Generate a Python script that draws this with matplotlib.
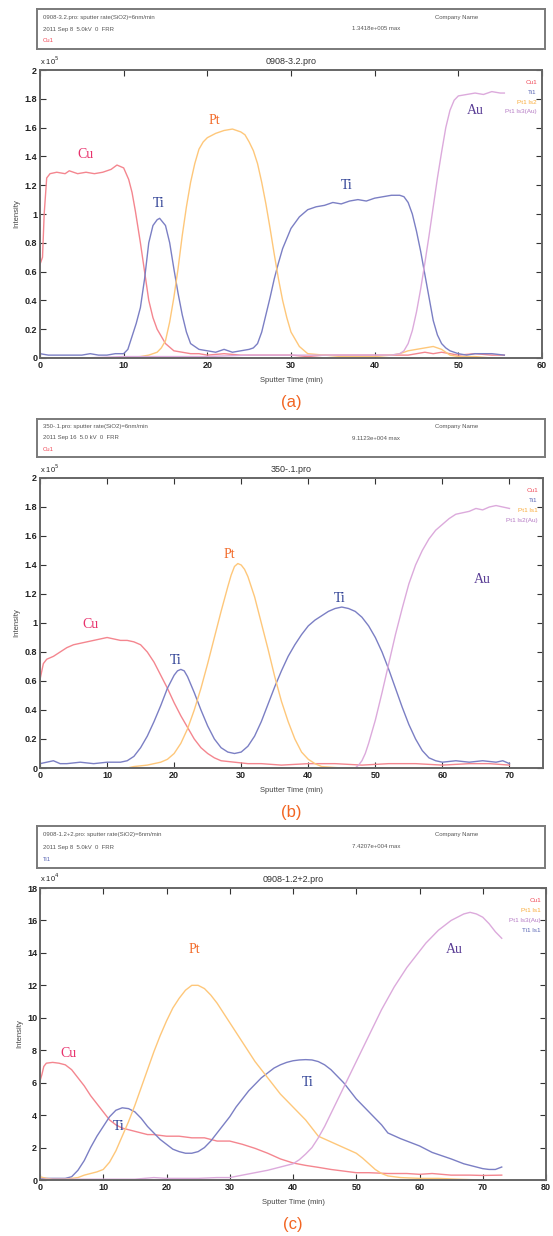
import matplotlib
matplotlib.use("Agg")
import matplotlib.pyplot as plt

W, H = 553, 1236

# ---------------- data: panel (a) ----------------
cu_a_t = [0, 0.3, 0.5, 0.8, 1.2, 2, 3, 3.5, 4.5, 5.5, 6.5, 7.5, 8.5, 9.2, 10, 10.6, 11, 11.4, 12, 12.5, 13, 13.5,
          14, 15, 16, 17, 18, 19, 20, 22, 24, 26, 28, 30, 32, 34, 36, 38, 40, 42, 44, 45, 46, 47, 48, 49, 50, 52, 54, 55.5]
cu_a_v = [0.65, 0.70, 1.00, 1.25, 1.28, 1.29, 1.28, 1.30, 1.28, 1.29, 1.28, 1.29, 1.31, 1.34, 1.32, 1.24, 1.15, 1.02,
          0.80, 0.60, 0.40, 0.28, 0.20, 0.10, 0.05, 0.04, 0.03, 0.03, 0.02, 0.03, 0.02, 0.02, 0.02, 0.02, 0.01, 0.02,
          0.02, 0.02, 0.02, 0.02, 0.02, 0.03, 0.04, 0.03, 0.04, 0.03, 0.02, 0.03, 0.02, 0.02]
ti_a_t = [0, 1, 2, 3, 4, 5, 6, 7, 8, 9, 10, 10.5, 11, 11.5, 12, 12.5, 13, 13.5, 14, 14.3, 15, 15.5, 16, 16.5, 17,
          17.5, 18, 19, 20, 21, 22, 23, 24, 25, 25.5, 26, 26.5, 27, 27.5, 28, 28.5, 29, 30, 31, 32, 33, 34, 35, 36,
          37, 38, 39, 40, 41, 42, 43, 43.5, 44, 44.5, 45, 45.5, 46, 46.5, 47, 47.5, 48, 48.5, 49, 50, 51, 52, 53,
          54, 55.5]
ti_a_v = [0.03, 0.02, 0.02, 0.02, 0.02, 0.02, 0.03, 0.02, 0.02, 0.03, 0.03, 0.06, 0.15, 0.24, 0.35, 0.55, 0.80,
          0.92, 0.96, 0.97, 0.92, 0.80, 0.62, 0.45, 0.30, 0.18, 0.10, 0.06, 0.05, 0.04, 0.06, 0.04, 0.05, 0.06, 0.07,
          0.10, 0.18, 0.30, 0.42, 0.55, 0.66, 0.76, 0.90, 0.98, 1.03, 1.05, 1.06, 1.08, 1.07, 1.09, 1.10, 1.09,
          1.11, 1.12, 1.13, 1.13, 1.12, 1.08, 1.00, 0.88, 0.74, 0.58, 0.42, 0.26, 0.16, 0.10, 0.07, 0.05, 0.03,
          0.02, 0.03, 0.03, 0.03, 0.02]
pt_a_t = [0, 5, 10, 12, 13, 14, 14.5, 15, 15.5, 16, 16.5, 17, 17.5, 18, 18.5, 19, 19.5, 20, 21, 22, 23, 24, 24.5,
          25, 25.5, 26, 26.5, 27, 27.5, 28, 28.5, 29, 29.5, 30, 31, 32, 34, 36, 38, 40, 42, 43, 44, 45, 46, 47, 48,
          48.5, 49, 50, 52, 54, 55.5]
pt_a_v = [0, 0, 0, 0.01, 0.02, 0.04, 0.07, 0.12, 0.25, 0.42, 0.62, 0.85, 1.05, 1.22, 1.35, 1.45, 1.50, 1.53, 1.56,
          1.58, 1.59, 1.57, 1.55, 1.50, 1.44, 1.35, 1.22, 1.07, 0.90, 0.72, 0.55, 0.40, 0.28, 0.18, 0.08, 0.03,
          0.02, 0.01, 0.01, 0.01, 0.02, 0.03, 0.05, 0.06, 0.07, 0.08, 0.06, 0.04, 0.02, 0.01, 0.01, 0.0, 0.0]
au_a_t = [0, 5, 10, 15, 20, 25, 30, 35, 40, 42, 43, 43.5, 44, 44.5, 45, 45.5, 46, 46.5, 47, 47.5, 48, 48.5, 49,
          49.5, 50, 51, 52, 53, 54, 55, 55.5]
au_a_v = [0.0, 0.0, 0.01, 0.01, 0.01, 0.02, 0.02, 0.02, 0.02, 0.02, 0.03, 0.05, 0.10, 0.19, 0.32, 0.48, 0.66, 0.85,
          1.05, 1.25, 1.43, 1.60, 1.72, 1.79, 1.82, 1.83, 1.84, 1.83, 1.85, 1.84, 1.84]

# ---------------- data: panel (b) ----------------
cu_b_t = [0, 0.5, 1, 2, 3, 4, 5, 6, 7, 8, 9, 10, 11, 12, 13, 14, 15, 16, 17, 18, 19, 20, 21, 22, 23, 24, 25, 26,
          27, 29, 31, 33, 36, 40, 44, 48, 52, 56, 60, 64, 67, 70]
cu_b_v = [0.61, 0.72, 0.75, 0.77, 0.80, 0.83, 0.85, 0.86, 0.87, 0.88, 0.89, 0.90, 0.89, 0.88, 0.88, 0.87, 0.85,
          0.80, 0.73, 0.64, 0.55, 0.45, 0.36, 0.28, 0.20, 0.14, 0.10, 0.07, 0.05, 0.04, 0.03, 0.03, 0.02, 0.03,
          0.03, 0.02, 0.03, 0.03, 0.02, 0.03, 0.03, 0.02]
ti_b_t = [0, 1, 2, 3, 4, 6, 8, 10, 12, 13, 14, 15, 16, 17, 18, 19, 20, 20.5, 21, 21.5, 22, 23, 24, 25, 26, 27, 28,
          29, 30, 31, 32, 33, 34, 35, 36, 37, 38, 39, 40, 41, 42, 43, 44, 45, 46, 47, 48, 49, 50, 51, 52, 53, 54,
          55, 56, 57, 58, 59, 60, 62, 64, 66, 68, 69, 70]
ti_b_v = [0.03, 0.04, 0.05, 0.03, 0.03, 0.04, 0.03, 0.04, 0.04, 0.05, 0.08, 0.14, 0.22, 0.32, 0.43, 0.55, 0.64,
          0.67, 0.68, 0.67, 0.63, 0.52, 0.40, 0.29, 0.20, 0.14, 0.11, 0.10, 0.11, 0.15, 0.22, 0.32, 0.44, 0.56,
          0.67, 0.77, 0.85, 0.92, 0.98, 1.02, 1.05, 1.08, 1.10, 1.11, 1.10, 1.08, 1.04, 0.98, 0.90, 0.80, 0.68,
          0.55, 0.42, 0.30, 0.20, 0.12, 0.07, 0.05, 0.04, 0.05, 0.04, 0.05, 0.04, 0.05, 0.03]
pt_b_t = [0, 5, 10, 13, 14, 16, 18, 19, 20, 21, 22, 23, 24, 25, 26, 27, 28, 28.5, 29, 29.5, 30, 30.5, 31, 32, 33,
          34, 35, 36, 37, 38, 39, 40, 41, 42, 45, 50, 55, 60, 65, 70]
pt_b_v = [0, 0, 0, 0, 0.01, 0.02, 0.04, 0.06, 0.10, 0.17, 0.27, 0.40, 0.55, 0.72, 0.90, 1.08, 1.25, 1.33, 1.39,
          1.41, 1.40, 1.37, 1.32, 1.18, 1.00, 0.82, 0.63, 0.46, 0.32, 0.20, 0.11, 0.06, 0.03, 0.01, 0, 0, 0, 0, 0, 0]
au_b_t = [0, 10, 20, 30, 40, 47, 47.5, 48, 48.5, 49, 50, 51, 52, 53, 54, 55, 56, 57, 58, 59, 60, 61, 62, 63, 64,
          65, 66, 67, 68, 69, 70]
au_b_v = [0, 0, 0, 0, 0, 0, 0.02, 0.05, 0.10, 0.17, 0.33, 0.52, 0.72, 0.92, 1.10, 1.27, 1.40, 1.50, 1.58, 1.64,
          1.68, 1.72, 1.75, 1.76, 1.77, 1.79, 1.78, 1.80, 1.81, 1.80, 1.79]

# ---------------- data: panel (c) ----------------
cu_c_t = [0, 0.3, 0.6, 1, 2, 3, 4, 5, 6, 7, 8, 9, 10, 11, 12, 13, 14, 15, 16, 17, 18, 20, 22, 24, 26, 27, 28, 29,
          30, 32, 34, 36, 38, 40, 42, 44, 46, 48, 50, 52, 55, 58, 60, 62, 65, 68, 70, 73]
cu_c_v = [6.1, 6.5, 7.0, 7.2, 7.25, 7.2, 7.1, 6.8, 6.3, 5.8, 5.2, 4.7, 4.2, 3.7, 3.4, 3.2, 3.1, 3.0, 2.9, 2.8,
          2.8, 2.7, 2.7, 2.6, 2.6, 2.5, 2.4, 2.4, 2.4, 2.2, 1.95, 1.65, 1.3, 1.05, 0.9, 0.78, 0.65, 0.55, 0.45,
          0.45, 0.4, 0.4, 0.35, 0.4, 0.3, 0.3, 0.28, 0.3]
ti_c_t = [0, 2, 4, 5, 6, 7, 8, 9, 10, 11, 12, 13, 14, 15, 16, 17, 18, 19, 20, 21, 22, 23, 24, 25, 26, 27, 28, 29,
          30, 31, 32, 33, 34, 35, 36, 37, 38, 39, 40, 41, 42, 43, 44, 45, 46, 47, 48, 49, 50, 51, 52, 53, 54, 55,
          57, 60, 62, 65, 67, 70, 71, 72, 73]
ti_c_v = [0.1, 0.1, 0.1, 0.2, 0.6, 1.2, 2.0, 2.7, 3.3, 3.9, 4.3, 4.45, 4.4, 4.2, 3.8, 3.3, 2.9, 2.5, 2.2, 1.9,
          1.75, 1.65, 1.65, 1.75, 2.0, 2.4, 2.9, 3.4, 3.9, 4.5, 5.0, 5.5, 5.9, 6.3, 6.6, 6.9, 7.1, 7.25, 7.35,
          7.4, 7.42, 7.4, 7.3, 7.1, 6.8, 6.4, 6.0, 5.5, 5.0, 4.6, 4.2, 3.8, 3.4, 2.9, 2.55, 2.1, 1.7, 1.3, 1.0,
          0.7, 0.65, 0.65, 0.8]
pt_c_t = [0, 1, 2, 4, 5, 6, 7, 8, 9, 10, 11, 12, 13, 14, 15, 16, 17, 18, 19, 20, 21, 22, 23, 24, 25, 26, 27, 28,
          29, 30, 31, 32, 33, 34, 35, 36, 37, 38, 39, 40, 41, 42, 43, 44, 46, 48, 50, 51, 52, 53, 54, 55, 57, 60,
          63, 66, 70, 73]
pt_c_v = [0.2, 0.1, 0.05, 0.05, 0.1, 0.15, 0.3, 0.4, 0.5, 0.65, 1.1, 1.8, 2.7, 3.6, 4.6, 5.7, 6.8, 7.9, 8.9, 9.8,
          10.6, 11.2, 11.7, 12.0, 12.0, 11.8, 11.4, 10.9, 10.3, 9.7, 9.1, 8.5, 7.9, 7.3, 6.8, 6.3, 5.8, 5.3, 4.9,
          4.5, 4.1, 3.7, 3.2, 2.7, 2.35, 2.0, 1.65, 1.35, 1.0, 0.65, 0.4, 0.25, 0.15, 0.1, 0.1, 0.05, 0.0, 0.0]
au_c_t = [0, 5, 10, 15, 18, 20, 25, 28, 30, 32, 34, 36, 38, 40, 41, 42, 43, 44, 45, 46, 47, 48, 49, 50, 51, 52, 53,
          54, 55, 56, 57, 58, 59, 60, 61, 62, 63, 64, 65, 66, 67, 68, 69, 70, 71, 72, 73]
au_c_v = [0.05, 0.05, 0.05, 0.05, 0.15, 0.1, 0.1, 0.15, 0.15, 0.3, 0.45, 0.6, 0.8, 1.0, 1.25, 1.6, 2.0, 2.6, 3.3,
          4.1, 4.9, 5.7, 6.5, 7.3, 8.1, 8.9, 9.7, 10.5, 11.2, 11.9, 12.5, 13.1, 13.6, 14.1, 14.6, 15.0, 15.4,
          15.7, 16.0, 16.2, 16.4, 16.5, 16.4, 16.2, 15.8, 15.3, 14.9]

# ---------------- text ----------------
headers = [
    ["0908-3.2.pro: sputter rate(SiO2)=6nm/min", "2011 Sep 8  5.0kV  0  FRR", "1.3418e+005 max", "Cu1"],
    ["350-.1.pro: sputter rate(SiO2)=6nm/min", "2011 Sep 16  5.0 kV  0  FRR", "9.1123e+004 max", "Cu1"],
    ["0908-1.2+2.pro: sputter rate(SiO2)=6nm/min", "2011 Sep 8  5.0kV  0  FRR", "7.4207e+004 max", "Ti1"],
]
titles = ["0908-3.2.pro", "350-.1.pro", "0908-1.2+2.pro"]
panel_tags = ["(a)", "(b)", "(c)"]
legends = [["Cu1", "Ti1", "Pt1 ls2", "Pt1 ls3(Au)"],
           ["Cu1", "Ti1", "Pt1 ls1", "Pt1 ls2(Au)"],
           ["Cu1", "Pt1 ls1", "Pt1 ls3(Au)", "Ti1 ls1"]]

LINE = {"Cu": "#f4868f", "Ti": "#7b7fc4", "Pt": "#fec77a", "Au": "#dcaadc"}
LAB = {"Cu": "#e8336d", "Ti": "#2c3e94", "Pt": "#f26b2a", "Au": "#5b3f96"}
LEG = {"Cu": "#f04a58", "Ti": "#5a66b4", "Pt": "#f9ab3a", "Au": "#b57ac4"}
TAG = "#f26522"

plt.rcParams['font.family'] = ['Liberation Sans', 'DejaVu Sans']

fig = plt.figure(figsize=(W / 100, H / 100), dpi=100)


def fbox(x0, y0, x1, y1):
    # pixel box -> figure fraction rect
    return [x0 / W, 1 - y1 / H, (x1 - x0) / W, (y1 - y0) / H]


def header(y0, y1, lines, hdr_color):
    ax = fig.add_axes(fbox(37, y0, 545, y1))
    ax.set_xlim(0, 1)
    ax.set_ylim(0, 1)
    ax.set_xticks([])
    ax.set_yticks([])
    for s in ax.spines.values():
        s.set_color("#7a7a7a")
        s.set_linewidth(1.4)
    ax.text(0.012, 0.80, lines[0], fontsize=4.3, color="#555", va="center")
    ax.text(0.012, 0.50, lines[1], fontsize=4.3, color="#555", va="center")
    ax.text(0.012, 0.20, lines[3], fontsize=4.3, color=hdr_color, va="center")
    ax.text(0.62, 0.50, lines[2], fontsize=4.3, color="#555", va="center")
    ax.text(0.783, 0.80, "Company Name", fontsize=4.3, color="#555", va="center")


def panel(i, box, xmax, xticks, ymax, yticks, ylabels, expo, curves, labels, leg_order, tag_y, xlab_y):
    ax = fig.add_axes(fbox(*box))
    for key, t, v in curves:
        ax.plot(t, v, color=LINE[key], lw=1.0)
    ax.set_xlim(0, xmax)
    ax.set_ylim(0, ymax)
    ax.set_xticks(xticks)
    ax.set_yticks(yticks)
    ax.set_yticklabels(ylabels)
    ax.tick_params(direction="in", length=4, width=0.8, top=True, right=True,
                   labelsize=6.5, pad=2, color="#333")
    for lbl in ax.get_xticklabels() + ax.get_yticklabels():
        lbl.set_fontweight("bold")
        lbl.set_color("#222")
    for s in ax.spines.values():
        s.set_color("#666")
        s.set_linewidth(1.4)
    ax.set_ylabel("Intensity", fontsize=5.5, color="#444", labelpad=3)
    ax.set_title(titles[i], fontsize=6.5, color="#333", pad=4)
    ax.text(0.0, 1.012, "x 10$^{%d}$" % expo, transform=ax.transAxes, fontsize=5.5,
            color="#222", ha="left", va="bottom")
    for k, (key, name) in enumerate(zip(leg_order, legends[i])):
        ax.text(0.99, 0.965 - k * 0.034, name, transform=ax.transAxes, fontsize=4.6,
                color=LEG[key], ha="right", va="top")
    for key, x, y in labels:
        ax.text(x, y, key, fontsize=10, color=LAB[key], family="Liberation Serif",
                ha="center", va="center")
    fig.text(0.5 * (box[0] + box[2]) / W, 1 - xlab_y / H, "Sputter Time (min)", fontsize=5.5,
             color="#444", ha="center", va="center")
    fig.text(0.5 * (box[0] + box[2]) / W, 1 - tag_y / H, panel_tags[i], fontsize=12,
             color=TAG, ha="center", va="center")


ylab_ab = ["0", "0.2", "0.4", "0.6", "0.8", "1", "1.2", "1.4", "1.6", "1.8", "2"]
yt_ab = [0, 0.2, 0.4, 0.6, 0.8, 1.0, 1.2, 1.4, 1.6, 1.8, 2.0]

header(9, 49, headers[0], LEG["Cu"])
panel(0, (40, 70, 542, 358), 60, [0, 10, 20, 30, 40, 50, 60], 2, yt_ab, ylab_ab, 5,
      [("Cu", cu_a_t, cu_a_v), ("Ti", ti_a_t, ti_a_v), ("Pt", pt_a_t, pt_a_v), ("Au", au_a_t, au_a_v)],
      [("Cu", 5.4, 1.41), ("Ti", 14.2, 1.07), ("Pt", 20.8, 1.65), ("Ti", 36.6, 1.20), ("Au", 52.0, 1.72)],
      ["Cu", "Ti", "Pt", "Au"], 402, 381)

header(419, 457, headers[1], LEG["Cu"])
panel(1, (40, 478, 543, 768), 75, [0, 10, 20, 30, 40, 50, 60, 70], 2, yt_ab, ylab_ab, 5,
      [("Cu", cu_b_t, cu_b_v), ("Ti", ti_b_t, ti_b_v), ("Pt", pt_b_t, pt_b_v), ("Au", au_b_t, au_b_v)],
      [("Cu", 7.5, 0.99), ("Ti", 20.3, 0.74), ("Pt", 28.2, 1.47), ("Ti", 44.7, 1.17), ("Au", 65.9, 1.30)],
      ["Cu", "Ti", "Pt", "Au"], 812, 790)

header(826, 868, headers[2], LEG["Ti"])
panel(2, (40, 888, 546, 1180), 80, [0, 10, 20, 30, 40, 50, 60, 70, 80], 18,
      list(range(0, 19, 2)), [str(v) for v in range(0, 19, 2)], 4,
      [("Cu", cu_c_t, cu_c_v), ("Ti", ti_c_t, ti_c_v), ("Pt", pt_c_t, pt_c_v), ("Au", au_c_t, au_c_v)],
      [("Cu", 4.5, 7.8), ("Ti", 12.4, 3.3), ("Pt", 24.4, 14.2), ("Ti", 42.4, 6.0), ("Au", 65.5, 14.2)],
      ["Cu", "Pt", "Au", "Ti"], 1225, 1203)

fig.savefig("out.png", dpi=100)
